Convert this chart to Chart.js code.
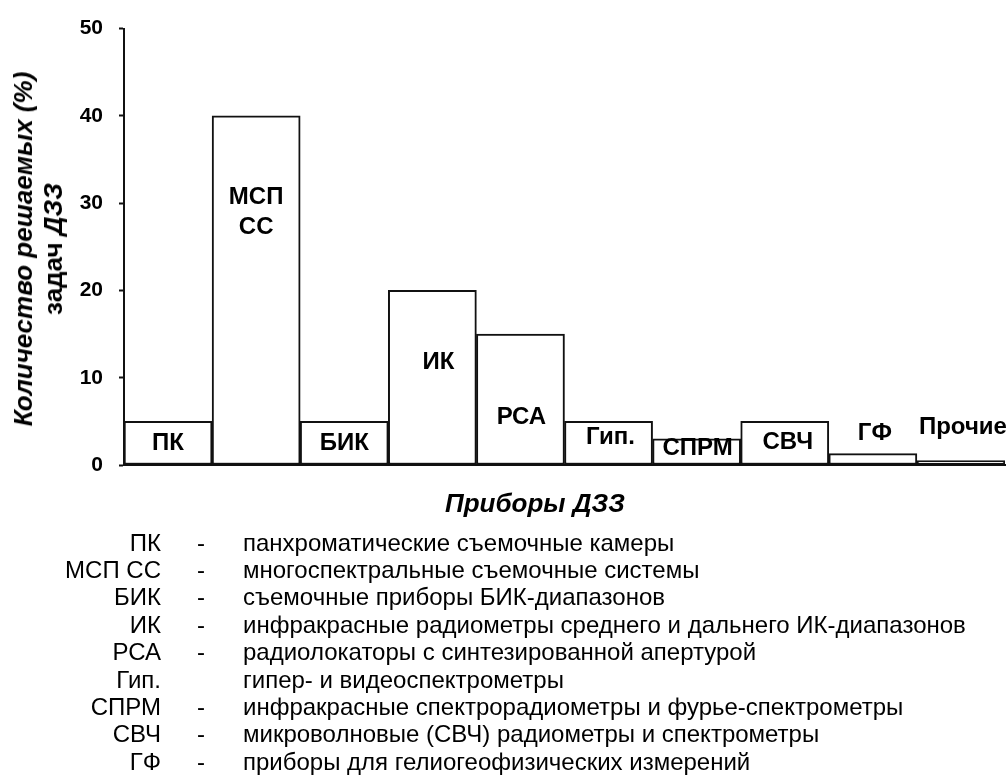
<!DOCTYPE html>
<html><head><meta charset="utf-8">
<script src="https://cdn.jsdelivr.net/npm/chart.js@4"></script>
<style>
html,body{margin:0;padding:0;background:#fff;}
#wrap{position:relative;width:1007px;height:776px;overflow:hidden;font-family:'Liberation Sans',Arial,sans-serif;color:#000;}
canvas{position:absolute;left:0;top:0;}
.ytitle{position:absolute;left:38px;top:249px;transform:translate(-50%,-50%) rotate(-90deg);font:bold italic 26px 'Liberation Sans',Arial,sans-serif;text-align:center;line-height:30px;white-space:nowrap;}
.ytitle .up{font-style:normal;}
.xtitle{position:absolute;left:535px;top:503px;transform:translate(-50%,-50%);font:bold italic 26px 'Liberation Sans',Arial,sans-serif;white-space:nowrap;}
.row{position:absolute;left:0;width:1007px;height:27px;line-height:27px;font-size:24px;white-space:nowrap;}
.ab{position:absolute;left:0;width:161px;text-align:right;}
.dash{position:absolute;left:197px;}
.desc{position:absolute;left:243px;}
</style></head>
<body><div id="wrap"><canvas id="c" width="1007" height="776"></canvas>
<div class="ytitle">Количество решаемых (%)<br><span class="up">задач</span> ДЗЗ</div>
<div class="xtitle">Приборы ДЗЗ</div>
<div id="gloss"></div>
</div>
<script>
const categories = ['ПК','МСП СС','БИК','ИК','РСА','Гип.','СПРМ','СВЧ','ГФ','Прочие'];
const values = [5, 40, 5, 20, 15, 5, 3, 5, 1.3, 0.5];
const yTicks = [0, 10, 20, 30, 40, 50];
const barLabels = [['ПК'],['МСП','СС'],['БИК'],['ИК'],['РСА'],['Гип.'],['СПРМ'],['СВЧ'],['ГФ'],['Прочие']];
const glossAbbr = ['ПК','МСП СС','БИК','ИК','РСА','Гип.','СПРМ','СВЧ','ГФ'];
const glossDash = ['-','-','-','-','-','','-','-','-'];
const glossText = [
 'панхроматические съемочные камеры',
 'многоспектральные съемочные системы',
 'съемочные приборы БИК-диапазонов',
 'инфракрасные радиометры среднего и дальнего ИК-диапазонов',
 'радиолокаторы с синтезированной апертурой',
 'гипер- и видеоспектрометры',
 'инфракрасные спектрорадиометры и фурье-спектрометры',
 'микроволновые (СВЧ) радиометры и спектрометры',
 'приборы для гелиогеофизических измерений'
];
// label layout (pixel offsets relative to bar center / baseline), not data
const labelDx = [0, 0, 0, 6, 1, 2, 1, 3, 2, 2];
const labelYpx = [[443],[197,227],[443],[362],[417],[437],[448],[442],[433],[427]];

const g = document.getElementById('gloss');
glossAbbr.forEach((a,i)=>{
  const d = document.createElement('div');
  d.className='row';
  d.style.top = (542 + i*27.4 - 13.5) + 'px';
  d.innerHTML = '<span class="ab">'+a+'</span><span class="dash">'+glossDash[i]+'</span><span class="desc">'+glossText[i]+'</span>';
  g.appendChild(d);
});

const labelPlugin = {
  id:'barLabels',
  afterDatasetsDraw(chart){
    const ctx = chart.ctx;
    const meta = chart.getDatasetMeta(0);
    ctx.save();
    ctx.font = "bold 24px 'Liberation Sans', Arial, sans-serif";
    ctx.fillStyle = '#000';
    ctx.textAlign = 'center';
    ctx.textBaseline = 'middle';
    meta.data.forEach((bar,i)=>{
      barLabels[i].forEach((t,j)=>{
        ctx.fillText(t, bar.x + labelDx[i], labelYpx[i][j]);
      });
    });
    ctx.restore();
  }
};

new Chart(document.getElementById('c'), {
  type:'bar',
  data:{labels:categories, datasets:[{data:values, backgroundColor:'#fff', borderColor:'#111', borderWidth:2, borderSkipped:false, barPercentage:1, categoryPercentage:1}]},
  options:{
    responsive:false, animation:false, devicePixelRatio:1,
    layout:{padding:{top:27,right:2,left:0,bottom:0}},
    plugins:{legend:{display:false}, tooltip:{enabled:false}},
    scales:{
      x:{
        ticks:{display:false},
        grid:{display:false},
        border:{color:'#111', width:2},
        afterFit(s){ s.height = 776 - 465; }
      },
      y:{
        min:0, max:50,
        afterBuildTicks(s){ s.ticks = yTicks.map(v=>({value:v})); },
        ticks:{color:'#000', padding:16, font:{family:"'Liberation Sans', Arial, sans-serif", size:21, weight:'bold'}},
        grid:{drawOnChartArea:false, color:'#111', tickLength:5, tickWidth:2},
        border:{color:'#111', width:2},
        afterFit(s){ s.width = 124; }
      }
    }
  },
  plugins:[labelPlugin]
});
</script>
</body></html>
